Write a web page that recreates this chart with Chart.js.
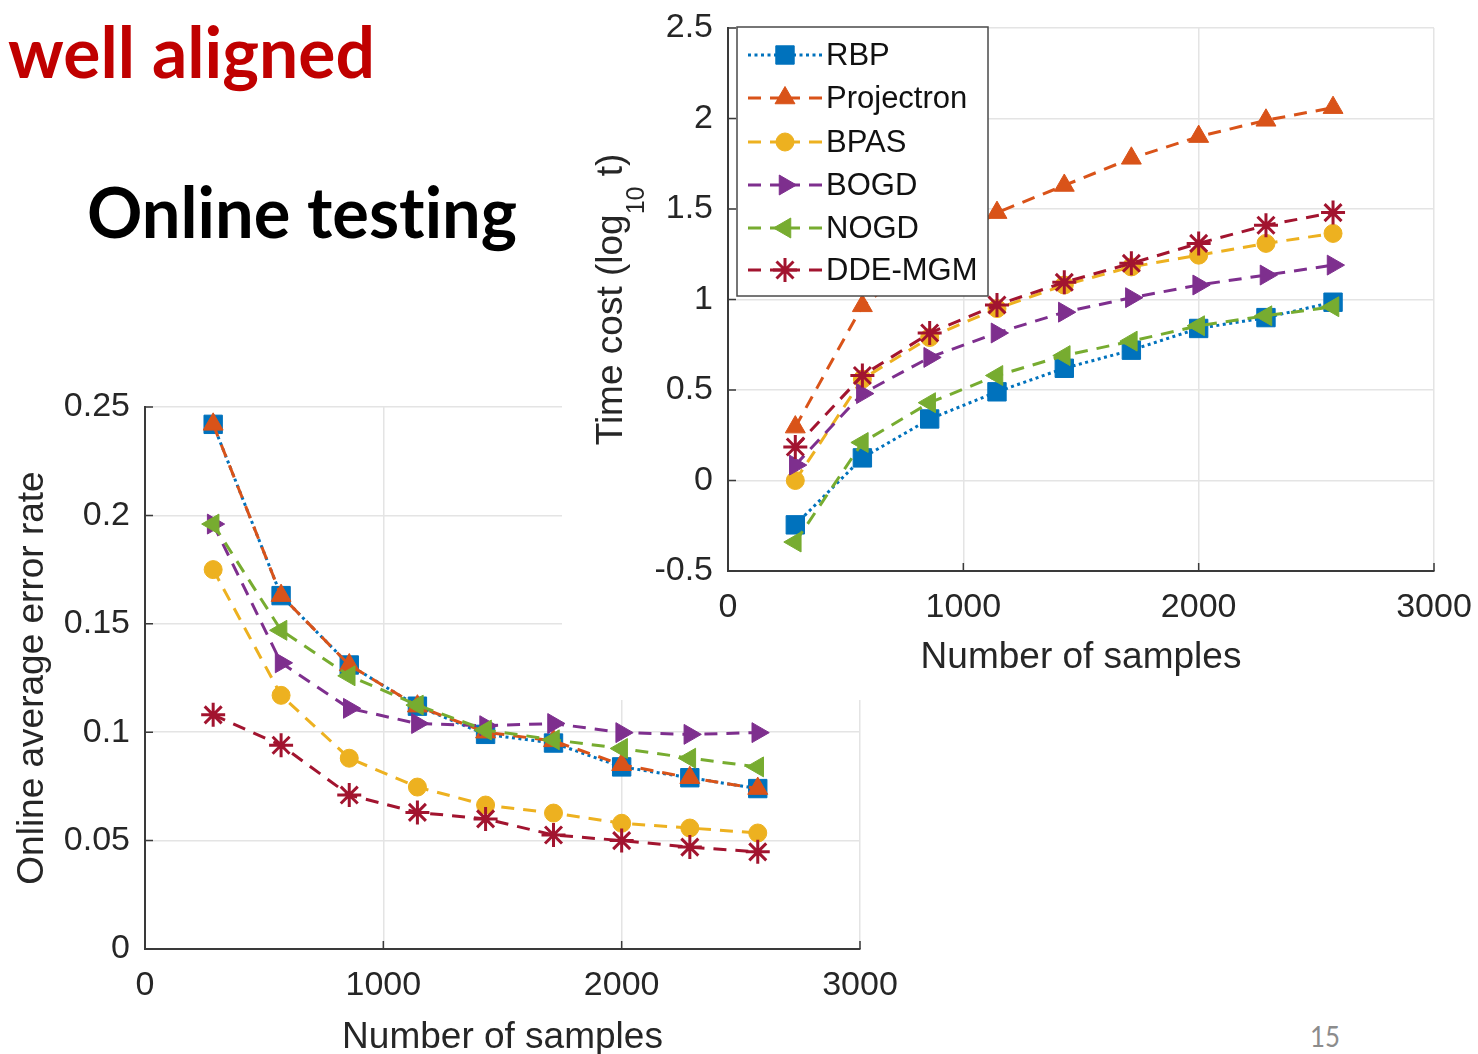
<!DOCTYPE html>
<html>
<head>
<meta charset="utf-8">
<script src="https://cdn.jsdelivr.net/npm/chart.js@4.4.1/dist/chart.umd.min.js"></script>
<style>
html,body{margin:0;padding:0;background:#fff;}
body{width:1478px;height:1054px;position:relative;overflow:hidden;}
.slide{position:absolute;white-space:nowrap;font-family:Lato,"Open Sans",sans-serif;line-height:1;transform-origin:0 0;font-variant-ligatures:none;font-feature-settings:"liga" 0,"clig" 0;}
#t1{left:8px;top:16px;font-size:70px;font-weight:700;color:#C00000;}
#t2{left:87px;top:175px;font-size:71px;font-weight:700;color:#000;}
#pg{left:1310px;top:1022px;font-size:28px;font-weight:400;color:#8c8c8c;}
#leftBox{position:absolute;left:0;top:370px;width:900px;height:684px;z-index:1;}
#rightBox{position:absolute;left:562px;top:0;width:916px;height:700px;z-index:2;background:#fff;}
canvas{display:block;}
</style>
</head>
<body>
<div class="slide" id="t1" data-w="367">well aligned</div>
<div class="slide" id="t2" data-w="430">Online testing</div>
<div class="slide" id="pg" data-w="30">15</div>
<div id="leftBox"><canvas id="cLeft" width="900" height="684"></canvas></div>
<div id="rightBox"><canvas id="cRight" width="916" height="700"></canvas></div>
<script>
// ---------------- DATA ----------------
const seriesNames = ['RBP', 'Projectron', 'BPAS', 'BOGD', 'NOGD', 'DDE-MGM'];
const samples = [286, 571, 857, 1143, 1429, 1714, 2000, 2286, 2571];

// Online average error rate (left chart)
const errRBP  = [0.242, 0.163, 0.131, 0.112, 0.099, 0.095, 0.084, 0.079, 0.074];
const errProj = [0.242, 0.163, 0.131, 0.112, 0.100, 0.096, 0.085, 0.079, 0.074];
const errBPAS = [0.175, 0.117, 0.088, 0.0747, 0.0664, 0.0627, 0.058, 0.0558, 0.0535];
const errBOGD = [0.196, 0.132, 0.111, 0.104, 0.103, 0.104, 0.0998, 0.099, 0.0998];
const errNOGD = [0.196, 0.147, 0.126, 0.1125, 0.101, 0.0965, 0.0925, 0.088, 0.084];
const errDDE  = [0.108, 0.094, 0.071, 0.063, 0.060, 0.0526, 0.050, 0.047, 0.0448];

// Time cost log10(t) (right chart)
const timeRBP  = [-0.245, 0.125, 0.34, 0.49, 0.62, 0.72, 0.84, 0.90, 0.985];
const timeProj = [0.295, 0.965, 1.25, 1.48, 1.63, 1.78, 1.90, 1.99, 2.06];
const timeBPAS = [0.0, 0.56, 0.79, 0.95, 1.08, 1.18, 1.245, 1.31, 1.365];
const timeBOGD = [0.085, 0.48, 0.68, 0.815, 0.93, 1.01, 1.08, 1.135, 1.19];
const timeNOGD = [-0.34, 0.21, 0.43, 0.58, 0.69, 0.77, 0.855, 0.91, 0.96];
const timeDDE  = [0.185, 0.58, 0.815, 0.97, 1.095, 1.20, 1.31, 1.41, 1.48];

// Ticks
const xTickValues = [0, 1000, 2000, 3000];
const xTickLabels = ['0', '1000', '2000', '3000'];
const errTickValues = [0, 0.05, 0.1, 0.15, 0.2, 0.25];
const errTickLabels = ['0', '0.05', '0.1', '0.15', '0.2', '0.25'];
const timeTickValues = [-0.5, 0, 0.5, 1, 1.5, 2, 2.5];
const timeTickLabels = ['-0.5', '0', '0.5', '1', '1.5', '2', '2.5'];

// Axis titles
const xTitle = 'Number of samples';
const errTitle = 'Online average error rate';
const timeTitleParts = ['Time cost (log', '10', ' t)'];

// ---------------- STYLE ----------------
const colors = ['#0072BD', '#D95319', '#EDB120', '#7E2F8E', '#77AC30', '#A2142F'];
const dashes = [[3, 3.5], [13, 9], [13, 9], [13, 9], [13, 9], [13, 9]];
const pStyles = ['rect', 'triangle', 'circle', 'triangle', 'triangle', 'star'];
const pRadii = [13, 11.5, 9, 11.5, 11.5, 12];
const pRots = [0, 0, 0, 90, -90, 0];
const FONT = '"Liberation Sans", Arial, Helvetica, sans-serif';
const AXIS = '#3a3a3a';
const GRID = '#e4e4e4';
const TXT = '#262626';

function makeDatasets(arrs) {
  return arrs.map((vals, i) => ({
    label: seriesNames[i],
    data: samples.map((x, k) => ({x: x, y: vals[k]})),
    borderColor: colors[i],
    backgroundColor: colors[i],
    borderWidth: 3,
    borderDash: dashes[i],
    pointStyle: pStyles[i],
    pointRadius: pRadii[i],
    pointHoverRadius: pRadii[i],
    pointRotation: pRots[i],
    pointBorderWidth: pStyles[i] === 'star' ? 3 : 1,
    pointBackgroundColor: colors[i],
    pointBorderColor: colors[i],
    tension: 0,
    fill: false,
    order: 6 - i,
    clip: false
  }));
}

const innerTicks = {
  id: 'innerTicks',
  afterDraw(chart) {
    const {ctx, chartArea: ca, scales} = chart;
    ctx.save();
    ctx.strokeStyle = AXIS;
    ctx.lineWidth = 1.5;
    ctx.beginPath();
    scales.x.ticks.forEach(t => {
      const p = scales.x.getPixelForValue(t.value);
      ctx.moveTo(p, ca.bottom); ctx.lineTo(p, ca.bottom - 8);
    });
    scales.y.ticks.forEach(t => {
      const p = scales.y.getPixelForValue(t.value);
      ctx.moveTo(ca.left, p); ctx.lineTo(ca.left + 8, p);
    });
    ctx.stroke();
    ctx.restore();
  }
};

function drawMarker(ctx, i, x, y) {
  ctx.save();
  ctx.setLineDash([]);
  ctx.fillStyle = colors[i];
  ctx.strokeStyle = colors[i];
  ctx.lineWidth = pStyles[i] === 'star' ? 3 : 1;
  if (Chart.helpers && Chart.helpers.drawPoint) {
    Chart.helpers.drawPoint(ctx, {pointStyle: pStyles[i], rotation: pRots[i], radius: pRadii[i], borderWidth: ctx.lineWidth}, x, y);
  } else {
    ctx.beginPath(); ctx.arc(x, y, pRadii[i], 0, Math.PI * 2); ctx.fill();
  }
  ctx.restore();
}

const legendPlugin = {
  id: 'customLegend',
  afterDraw(chart) {
    const ctx = chart.ctx;
    const bx = 175, by = 27, bw = 251, bh = 269;
    ctx.save();
    ctx.fillStyle = '#fff';
    ctx.fillRect(bx, by, bw, bh);
    ctx.strokeStyle = '#4a4a4a';
    ctx.lineWidth = 1.5;
    ctx.strokeRect(bx, by, bw, bh);
    const rows = [55, 98, 142, 185, 228, 270];
    seriesNames.forEach((name, i) => {
      const yy = rows[i];
      ctx.strokeStyle = colors[i];
      ctx.lineWidth = 3;
      ctx.setLineDash(dashes[i]);
      ctx.beginPath(); ctx.moveTo(186, yy); ctx.lineTo(223, yy); ctx.stroke();
      ctx.beginPath(); ctx.moveTo(260, yy); ctx.lineTo(223, yy); ctx.stroke();
      ctx.setLineDash([]);
      drawMarker(ctx, i, 223, yy);
      ctx.fillStyle = '#111';
      ctx.font = '31px ' + FONT;
      ctx.textBaseline = 'middle';
      ctx.textAlign = 'left';
      ctx.fillText(name, 264, yy + 1);
    });
    ctx.restore();
  }
};

const rightYTitle = {
  id: 'rightYTitle',
  afterDraw(chart) {
    const ctx = chart.ctx, ca = chart.chartArea;
    ctx.save();
    ctx.translate(50, (ca.top + ca.bottom) / 2);
    ctx.rotate(-Math.PI / 2);
    ctx.fillStyle = TXT;
    ctx.textBaseline = 'middle';
    ctx.textAlign = 'left';
    const fonts = ['37px ' + FONT, '25px ' + FONT, '37px ' + FONT];
    const offs = [0, 25, 0];
    let widths = timeTitleParts.map((t, k) => { ctx.font = fonts[k]; return ctx.measureText(t).width; });
    let total = widths.reduce((a, b) => a + b, 0);
    let x = -total / 2;
    timeTitleParts.forEach((t, k) => {
      ctx.font = fonts[k];
      ctx.fillText(t, x, offs[k]);
      x += widths[k];
    });
    ctx.restore();
  }
};

function zeroPad(s) { s.paddingLeft = 0; s.paddingRight = 0; s.paddingTop = 0; s.paddingBottom = 0; }

function baseScales(yVals, yLabels, yMin, yMax, opts) {
  return {
    x: {
      type: 'linear', min: 0, max: 3000,
      afterBuildTicks: s => { s.ticks = xTickValues.map(v => ({value: v})); },
      afterFit: s => { s.height = opts.xH; zeroPad(s); },
      grid: {color: GRID, lineWidth: 1.5, drawTicks: false},
      border: {color: AXIS, width: 2},
      ticks: {
        autoSkip: false, maxRotation: 0, padding: 16, color: TXT,
        font: {family: FONT, size: 34},
        callback: (v, i) => xTickLabels[i]
      },
      title: {
        display: true, text: xTitle, color: TXT,
        font: {family: FONT, size: 37, lineHeight: 0.9},
        padding: {top: 0, bottom: opts.xTitlePad}
      }
    },
    y: {
      type: 'linear', min: yMin, max: yMax,
      afterBuildTicks: s => { s.ticks = yVals.map(v => ({value: v})); },
      afterFit: s => { s.width = opts.yW; zeroPad(s); },
      grid: {color: GRID, lineWidth: 1.5, drawTicks: false},
      border: {color: AXIS, width: 2},
      ticks: {
        padding: 15, color: TXT,
        font: {family: FONT, size: 34},
        callback: (v, i) => yLabels[i]
      },
      title: {
        display: opts.yTitle !== null, text: opts.yTitle || '', color: TXT,
        font: {family: FONT, size: 37, lineHeight: 0.9},
        padding: {top: 16, bottom: 0}
      }
    }
  };
}

const common = {
  responsive: false,
  animation: false,
  devicePixelRatio: 1,
  plugins: {legend: {display: false}, tooltip: {enabled: false}, title: {display: false}},
  events: []
};

new Chart(document.getElementById('cLeft'), {
  type: 'line',
  data: {datasets: makeDatasets([errRBP, errProj, errBPAS, errBOGD, errNOGD, errDDE])},
  options: Object.assign({}, common, {
    layout: {padding: {left: 0, top: 37, right: 40, bottom: 0}},
    scales: baseScales(errTickValues, errTickLabels, 0, 0.25, {xH: 105, yW: 145, xTitlePad: 0, yTitle: errTitle})
  }),
  plugins: [innerTicks]
});

new Chart(document.getElementById('cRight'), {
  type: 'line',
  data: {datasets: makeDatasets([timeRBP, timeProj, timeBPAS, timeBOGD, timeNOGD, timeDDE])},
  options: Object.assign({}, common, {
    layout: {padding: {left: 0, top: 28, right: 44, bottom: 0}},
    scales: baseScales(timeTickValues, timeTickLabels, -0.5, 2.5, {xH: 129, yW: 166, xTitlePad: 26, yTitle: null})
  }),
  plugins: [innerTicks, legendPlugin, rightYTitle]
});

// fit slide texts to their widths
function fitTexts() {
  document.querySelectorAll('.slide').forEach(el => {
    el.style.transform = 'none';
    const w = el.getBoundingClientRect().width;
    const target = parseFloat(el.dataset.w);
    if (w > 0) el.style.transform = 'scaleX(' + (target / w) + ')';
  });
}
fitTexts();
if (document.fonts && document.fonts.ready) document.fonts.ready.then(fitTexts);
</script>
</body>
</html>
